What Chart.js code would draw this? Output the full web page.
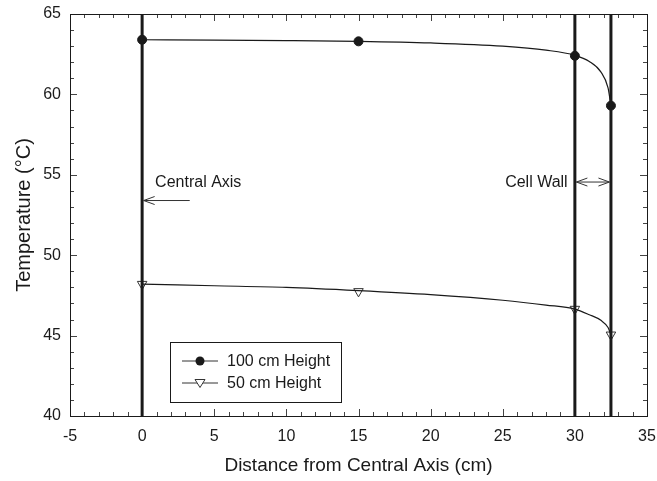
<!DOCTYPE html>
<html>
<head>
<meta charset="utf-8">
<script src="https://cdn.jsdelivr.net/npm/chart.js@4/dist/chart.umd.min.js"></script>
<style>
  html, body { margin: 0; padding: 0; background: #fff; }
  #wrap { width: 657px; height: 481px; }
</style>
</head>
<body>
<div id="wrap"><canvas id="chart" width="657" height="481"></canvas></div>
<script>
// Temperature profile data
const xTicks = [-5, 0, 5, 10, 15, 20, 25, 30, 35]
const yTicks = [40, 45, 50, 55, 60, 65]

// curve profiles
const curve100X = [0, 5, 10, 15, 20, 25, 28, 30, 31, 31.8, 32.3, 32.5]
const curve100Y = [63.4, 63.38, 63.35, 63.3, 63.2, 63.0, 62.75, 62.43, 62.05, 61.4, 60.4, 59.3]
const curve50X = [0, 5, 10, 15, 20, 25, 28, 30, 31, 31.8, 32.3, 32.5]
const curve50Y = [48.2, 48.1, 48.0, 47.8, 47.55, 47.2, 46.9, 46.65, 46.3, 45.95, 45.5, 45.05]

// marker points
const marker100X = [0, 15, 30, 32.5]
const marker100Y = [63.4, 63.3, 62.4, 59.3]
const marker50X = [0, 15, 30, 32.5]
const marker50Y = [48.2, 47.75, 46.65, 45.05]

const wallPositions = [0, 30, 32.5]
const seriesLabels = ["100 cm Height", "50 cm Height"]

const FONT = "'Liberation Sans', Arial, Helvetica, sans-serif"
const INK = "#1a1a1a"

function toPoints(xs, ys) {
  return xs.map((x, i) => ({ x: x, y: ys[i] }))
}

// vertical walls, inward ticks, annotations and legend
const decorPlugin = {
  id: "decor",
  afterDatasetsDraw(chart) {
    const ctx = chart.ctx
    const xs = chart.scales.x
    const ys = chart.scales.y
    const area = chart.chartArea
    ctx.save()

    // inward ticks on all four sides
    ctx.strokeStyle = "#444"
    ctx.lineWidth = 1
    for (let v = -5; v <= 35; v++) {
      const px = Math.round(xs.getPixelForValue(v)) + 0.5
      const len = v % 5 === 0 ? 7 : 4
      ctx.beginPath()
      ctx.moveTo(px, area.bottom); ctx.lineTo(px, area.bottom - len)
      ctx.moveTo(px, area.top); ctx.lineTo(px, area.top + len)
      ctx.stroke()
    }
    for (let v = 40; v <= 65; v++) {
      const py = Math.round(ys.getPixelForValue(v)) + 0.5
      const len = v % 5 === 0 ? 7 : 4
      ctx.beginPath()
      ctx.moveTo(area.left, py); ctx.lineTo(area.left + len, py)
      ctx.moveTo(area.right, py); ctx.lineTo(area.right - len, py)
      ctx.stroke()
    }

    // walls
    ctx.lineWidth = 3
    ctx.strokeStyle = INK
    wallPositions.forEach((w) => {
      const px = xs.getPixelForValue(w)
      ctx.beginPath()
      ctx.moveTo(px, area.top)
      ctx.lineTo(px, area.bottom)
      ctx.stroke()
    })

    // annotations
    ctx.fillStyle = INK
    ctx.font = "16px " + FONT
    ctx.textBaseline = "middle"
    ctx.textAlign = "left"
    ctx.fillText("Central Axis", xs.getPixelForValue(0.9), ys.getPixelForValue(54.5))
    ctx.textAlign = "right"
    ctx.fillText("Cell Wall", xs.getPixelForValue(29.5), ys.getPixelForValue(54.5))

    function head(x, y, dir) {
      ctx.beginPath()
      ctx.moveTo(x + dir * 11, y - 4)
      ctx.lineTo(x, y)
      ctx.lineTo(x + dir * 11, y + 4)
      ctx.stroke()
    }
    ctx.lineWidth = 1
    ctx.strokeStyle = "#333"
    // central axis arrow
    let ay = ys.getPixelForValue(53.4)
    let x1 = xs.getPixelForValue(3.3), x0 = xs.getPixelForValue(0) + 1.5
    ctx.beginPath(); ctx.moveTo(x1, ay); ctx.lineTo(x0, ay); ctx.stroke()
    head(x0, ay, 1)
    // cell wall double arrow
    ay = ys.getPixelForValue(54.55)
    x0 = xs.getPixelForValue(30) + 1.5
    x1 = xs.getPixelForValue(32.5) - 1.5
    ctx.beginPath(); ctx.moveTo(x0, ay); ctx.lineTo(x1, ay); ctx.stroke()
    head(x0, ay, 1)
    head(x1, ay, -1)

    // legend box
    ctx.strokeStyle = INK
    ctx.lineWidth = 1
    ctx.strokeRect(170.5, 342.5, 171, 60)
    ctx.font = "16px " + FONT
    ctx.textAlign = "left"
    const rows = [361, 383]
    rows.forEach((ry, i) => {
      ctx.strokeStyle = "#333"
      ctx.beginPath()
      ctx.moveTo(182, ry); ctx.lineTo(218, ry)
      ctx.stroke()
      if (i === 0) {
        ctx.fillStyle = INK
        ctx.beginPath(); ctx.arc(200, ry, 4.5, 0, Math.PI * 2); ctx.fill()
      } else {
        ctx.fillStyle = "#fff"
        ctx.beginPath()
        ctx.moveTo(195, ry - 3.5); ctx.lineTo(205, ry - 3.5); ctx.lineTo(200, ry + 4.5); ctx.closePath()
        ctx.fill(); ctx.stroke()
      }
      ctx.fillStyle = INK
      ctx.fillText(seriesLabels[i], 227, ry + 1)
    })
    ctx.restore()
  }
}

function noPad(s) {
  s.paddingLeft = 0
  s.paddingRight = 0
  s.paddingTop = 0
  s.paddingBottom = 0
}

new Chart(document.getElementById("chart"), {
  type: "scatter",
  data: {
    datasets: [
      {
        label: seriesLabels[0] + " curve",
        data: toPoints(curve100X, curve100Y),
        showLine: true,
        borderColor: INK,
        borderWidth: 1.2,
        pointRadius: 0,
        cubicInterpolationMode: "monotone",
      },
      {
        label: seriesLabels[1] + " curve",
        data: toPoints(curve50X, curve50Y),
        showLine: true,
        borderColor: INK,
        borderWidth: 1.2,
        pointRadius: 0,
        cubicInterpolationMode: "monotone",
      },
      {
        label: seriesLabels[0],
        data: toPoints(marker100X, marker100Y),
        pointStyle: "circle",
        pointRadius: 4.5,
        backgroundColor: INK,
        borderColor: INK,
      },
      {
        label: seriesLabels[1],
        data: toPoints(marker50X, marker50Y),
        pointStyle: "triangle",
        rotation: 180,
        pointRadius: 5.5,
        backgroundColor: "#fff",
        borderColor: "#333",
        borderWidth: 1,
      },
    ],
  },
  options: {
    responsive: false,
    animation: false,
    events: [],
    layout: { padding: { top: 14, right: 10, left: 8, bottom: 0 } },
    plugins: { legend: { display: false }, tooltip: { enabled: false } },
    scales: {
      x: {
        type: "linear",
        min: -5,
        max: 35,
        afterFit: (s) => { s.height = 65; noPad(s) },
        afterBuildTicks: (s) => { s.ticks = xTicks.map((v) => ({ value: v })) },
        grid: { display: false, drawTicks: false },
        border: { display: true, color: INK, width: 1 },
        ticks: { color: INK, font: { family: FONT, size: 16 }, padding: 11, maxRotation: 0 },
        title: { display: true, text: "Distance from Central Axis (cm)", color: INK, font: { family: FONT, size: 19 }, padding: { top: 6 } },
      },
      y: {
        type: "linear",
        min: 40,
        max: 65,
        afterFit: (s) => { s.width = 62; noPad(s) },
        afterBuildTicks: (s) => { s.ticks = yTicks.map((v) => ({ value: v })) },
        grid: { display: false, drawTicks: false },
        border: { display: true, color: INK, width: 1 },
        ticks: { color: INK, font: { family: FONT, size: 16 }, padding: 9 },
        title: { display: true, text: "Temperature (°C)", color: INK, font: { family: FONT, size: 20 }, padding: { bottom: 4 } },
      },
    },
  },
  plugins: [
    decorPlugin,
    {
      id: "frame",
      afterDraw(chart) {
        const a = chart.chartArea
        const ctx = chart.ctx
        ctx.save()
        ctx.strokeStyle = INK
        ctx.lineWidth = 1
        ctx.strokeRect(Math.round(a.left) + 0.5, Math.round(a.top) + 0.5, Math.round(a.right - a.left), Math.round(a.bottom - a.top))
        ctx.restore()
      },
    },
  ],
})
</script>
</body>
</html>
